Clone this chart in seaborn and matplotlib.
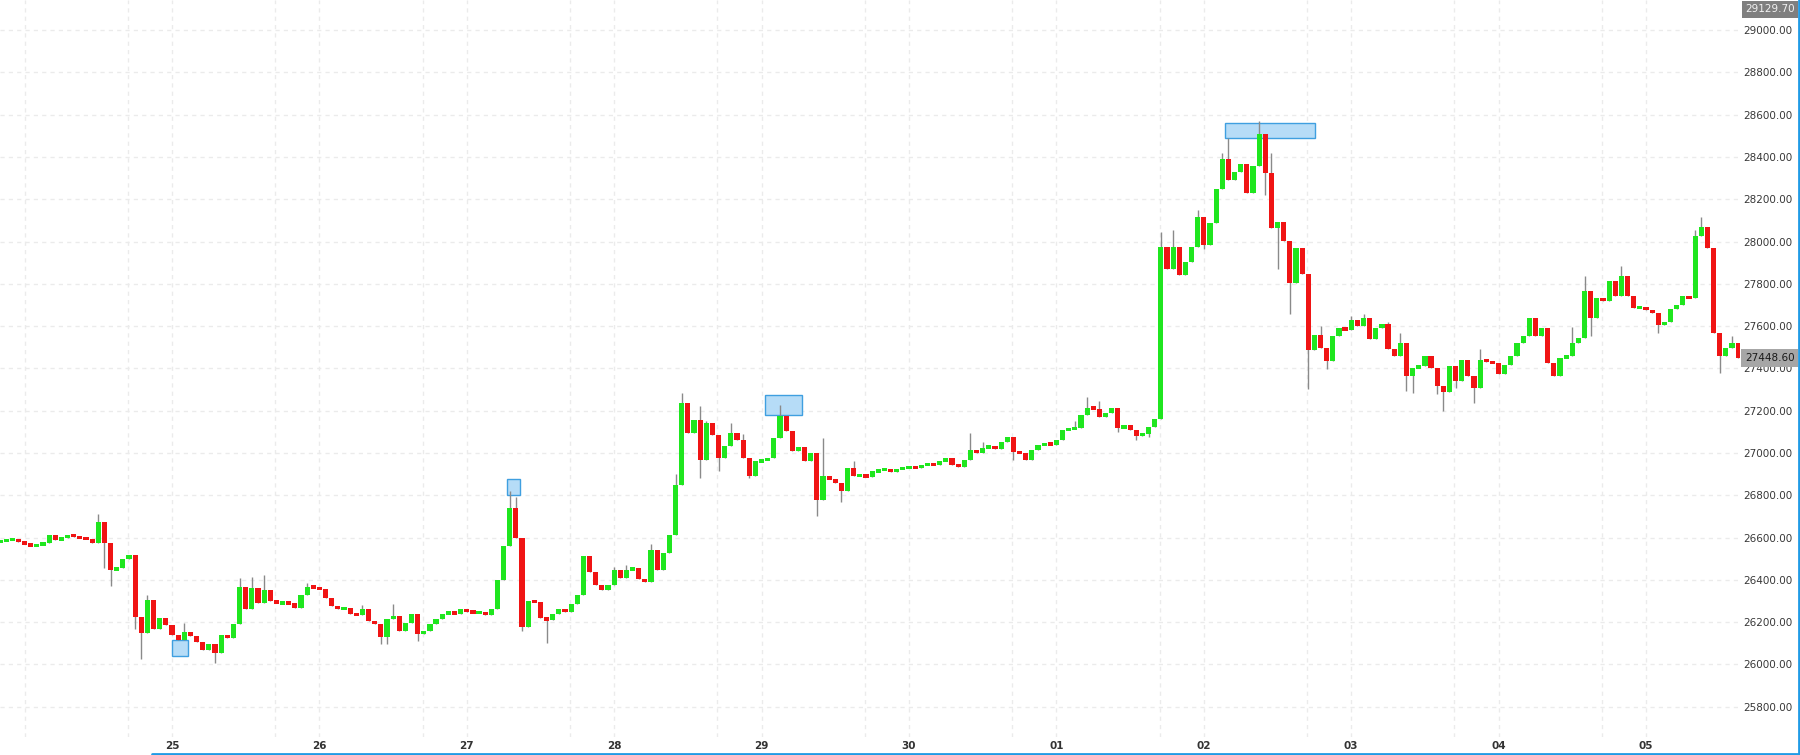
import numpy as np
import pandas as pd
import seaborn as sns
import matplotlib
matplotlib.use("Agg")
import matplotlib.pyplot as plt
import matplotlib.transforms as mtransforms
from matplotlib.patches import Rectangle
from matplotlib.lines import Line2D

# hourly candles, hour 0 = day "25" 00:00
first_hour = -28
first_open = 26580

closes = [
    # 23-24 (last 28 hours before 25)
    26585, 26590, 26593, 26580, 26568, 26560, 26565, 26575, 26610, 26588,
    26600, 26612, 26605, 26598, 26595, 26575, 26674, 26572, 26449, 26455,
    26501, 26517, 26225, 26150, 26304, 26170, 26222, 26186,
    # 25
    26139, 26115, 26154, 26134, 26107, 26068, 26099, 26052, 26140, 26127,
    26190, 26367, 26260, 26360, 26290, 26350, 26300, 26290, 26292, 26290,
    26268, 26330, 26367, 26365,
    # 26
    26355, 26316, 26277, 26261, 26268, 26238, 26232, 26260, 26206, 26190,
    26130, 26214, 26230, 26159, 26195, 26238, 26143, 26159, 26190, 26214,
    26240, 26246, 26240, 26261,
    # 27
    26250, 26245, 26247, 26233, 26260, 26400, 26561, 26740, 26600, 26175,
    26300, 26295, 26222, 26208, 26240, 26261, 26250, 26285, 26330, 26513,
    26435, 26375, 26350, 26378,
    # 28
    26449, 26410, 26449, 26455, 26402, 26390, 26539, 26449, 26528, 26614,
    26850, 27236, 27094, 27157, 26968, 27142, 27087, 26976, 27031, 27094,
    27063, 26976, 26890, 26960,
    # 29
    26965, 26976, 27071, 27173, 27102, 27008, 27030, 26960, 27000, 26780,
    26890, 26875, 26858, 26819, 26929, 26890, 26895, 26886, 26913, 26918,
    26924, 26912, 26925, 26930,
    # 30
    26935, 26930, 26943, 26950, 26943, 26960, 26975, 26943, 26936, 26966,
    27014, 26998, 27025, 27030, 27019, 27053, 27077, 27006, 26998, 26967,
    27014, 27038, 27045, 27040,
    # 01
    27060, 27108, 27112, 27118, 27180, 27214, 27210, 27170, 27190, 27211,
    27116, 27130, 27110, 27082, 27090, 27121, 27163, 27975, 27872, 27975,
    27841, 27904, 27975, 28116,
    # 02
    27985, 28088, 28250, 28392, 28290, 28330, 28368, 28230, 28356, 28509,
    28324, 28065, 28090, 28002, 27805, 27970, 27844, 27485, 27560, 27497,
    27435, 27553, 27592, 27580,
    # 03
    27627, 27600, 27639, 27537, 27590, 27608, 27490, 27458, 27521, 27364,
    27403, 27410, 27458, 27403, 27316, 27290, 27411, 27340, 27442, 27364,
    27309, 27442, 27430, 27425,
    # 04
    27372, 27417, 27457, 27520, 27554, 27638, 27551, 27590, 27425, 27362,
    27449, 27460, 27520, 27545, 27764, 27638, 27733, 27720, 27811, 27740,
    27838, 27740, 27685, 27690,
    # 05
    27677, 27662, 27606, 27620, 27680, 27701, 27740, 27733, 28024, 28070,
    27970, 27567, 27457, 27496, 27520, 27449,
]

# visible wicks (hour -> price)
hi_idx = [-12, -4, 2, 11, 13, 15, 22, 31, 36, 55, 56, 68, 72, 74, 78, 82, 83,
          86, 87, 91, 93, 99, 106, 111, 130, 132, 147, 149, 151, 161, 163,
          167, 171, 172, 177, 179, 187, 192, 194, 198, 200, 213, 228, 230,
          236, 248, 249, 254]
hi_val = [26713, 26330, 26197, 26411, 26415, 26422, 26387, 26280, 26285,
          26820, 26790, 26482, 26460, 26470, 26570, 26900, 27283, 27220,
          27150, 27142, 27090, 27228, 27071, 26960, 27093, 27050, 27150,
          27266, 27245, 28046, 28055, 28148, 28419, 28490, 28572, 28419,
          27600, 27650, 27655, 27620, 27568, 27490, 27598, 27835, 27882,
          28055, 28118, 27551]
lo_idx = [-11, -10, -6, -5, 7, 34, 35, 40, 57, 61, 86, 89, 94, 105, 109, 137,
          154, 157, 159, 168, 178, 180, 182, 185, 188, 201, 202, 206, 207,
          209, 212, 231, 242, 252]
lo_val = [26455, 26370, 26170, 26028, 26008, 26095, 26099, 26112, 26160,
          26101, 26882, 26915, 26880, 26700, 26770, 26967, 27100, 27060,
          27075, 27963, 28220, 27868, 27655, 27301, 27395, 27293, 27285,
          27277, 27198, 27309, 27238, 27551, 27567, 27378]

day_labels = ["25", "26", "27", "28", "29", "30", "01", "02", "03", "04", "05"]

# highlighted zones
box_start = [0.05, 54.6, 96.5, 171.4]
box_end = [2.66, 56.7, 102.5, 186.1]
box_low = [26041, 26800, 27178, 28488]
box_high = [26118, 26876, 27276, 28559]

last_price = 27448.60
top_price = 29129.70

# ---- build candles ----
df = pd.DataFrame({"close": closes})
df["hour"] = first_hour + np.arange(len(df))
df["open"] = df["close"].shift(1).fillna(first_open)
df["high"] = df[["open", "close"]].max(axis=1)
df["low"] = df[["open", "close"]].min(axis=1)
df = df.set_index("hour", drop=False)
df.loc[hi_idx, "high"] = hi_val
df.loc[lo_idx, "low"] = lo_val
df["up"] = df["close"] >= df["open"]
df["body_h"] = (df["close"] - df["open"]).abs().clip(lower=16)
df["body_bot"] = (df[["open", "close"]].mean(axis=1) - df["body_h"] / 2)

sns.set_theme(style="white")
plt.rcParams["font.family"] = ["DejaVu Sans"]

fig = plt.figure(figsize=(18, 7.55), dpi=100, facecolor="white")
ax = fig.add_axes([0, 18 / 755, 1740 / 1800, 737 / 755])

green = "#1fe61f"
red = "#f01414"

for s, e, lo, hi in zip(box_start, box_end, box_low, box_high):
    ax.add_patch(Rectangle((s, lo), e - s, hi - lo, facecolor="#b6dcf7",
                           edgecolor="#3f9fe0", lw=1, zorder=1.5))

ax.vlines(df["hour"], df["low"], df["high"], color="#8a8a8a", lw=1, zorder=2)
ax.bar(df["hour"], df["body_h"], bottom=df["body_bot"], width=0.84,
       color=np.where(df["up"], green, red), lw=0, zorder=3)

ax.set_xlim(-28.0, 255.3)
ax.set_ylim(25657, 29142)

day_pos = [24 * i for i in range(len(day_labels))]
ax.set_xticks(day_pos)
ax.set_xticklabels(day_labels)
ax.set_xticks([-24] + [d - 7.2 for d in day_pos], minor=True)
ax.set_yticks(list(range(25800, 29001, 200)))
ax.set_yticklabels([f"{v:.2f}" for v in range(25800, 29001, 200)])

ax.grid(True, which="both", axis="x", ls=(0, (3, 3)), color="#ebebeb", lw=1)
ax.grid(True, which="major", axis="y", ls=(0, (3, 3)), color="#ebebeb", lw=1)
ax.set_axisbelow(True)

ax.yaxis.tick_right()
ax.tick_params(axis="y", length=0, pad=2.5, labelsize=7.5, labelcolor="#383838")
ax.tick_params(axis="x", which="both", length=0, pad=3, labelsize=7.5,
               labelcolor="#333333")
for t in ax.get_xticklabels():
    t.set_fontweight("bold")
for s in ax.spines.values():
    s.set_visible(False)

# price tags on the right axis
blend = mtransforms.blended_transform_factory(ax.transAxes, ax.transData)
shift = mtransforms.ScaledTranslation(5 / 100, 0, fig.dpi_scale_trans)
ax.text(1.0, last_price, f"{last_price:.2f}", transform=blend + shift,
        ha="left", va="center", fontsize=7.5, color="#1a1a1a", clip_on=False,
        zorder=6, bbox=dict(boxstyle="square,pad=0.35", fc="#a6a6a6", ec="none"))
shift_top = mtransforms.ScaledTranslation(5 / 100, -9.5 / 100, fig.dpi_scale_trans)
ax.text(1.0, 1.0, f"{top_price:.2f}", transform=ax.transAxes + shift_top,
        ha="left", va="center", fontsize=7.5, color="#f2f2f2", clip_on=False,
        zorder=6, bbox=dict(boxstyle="square,pad=0.3", fc="#7f7f7f", ec="none"))

# blue frame on the right and bottom
fig.add_artist(Line2D([1798.5 / 1800] * 2, [0, 1], transform=fig.transFigure,
                      color="#1f9be6", lw=2))
fig.add_artist(Line2D([152 / 1800, 1], [1.5 / 755] * 2, transform=fig.transFigure,
                      color="#1f9be6", lw=2))

fig.savefig("out.png", dpi=100, facecolor="white")
